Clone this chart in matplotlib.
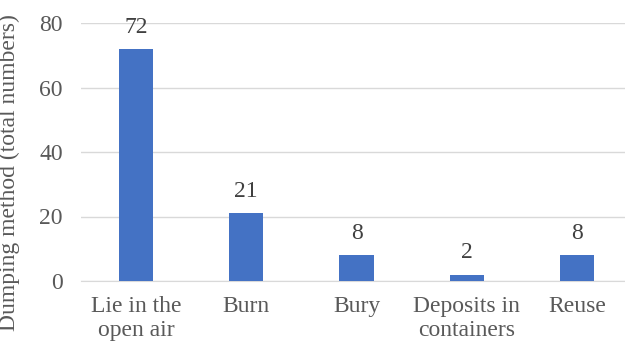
import matplotlib
matplotlib.use("Agg")
import matplotlib.pyplot as plt

categories = ["Lie in the\nopen air", "Burn", "Bury", "Deposits in\ncontainers", "Reuse"]
values = [72, 21, 8, 2, 8]
yticks = [0, 20, 40, 60, 80]

text_color = "#595959"
bar_color = "#4472C4"
grid_color = "#D9D9D9"

plt.rcParams["font.family"] = ["Liberation Serif", "DejaVu Serif"]

fig = plt.figure(figsize=(6.25, 3.46), dpi=100)
ax = fig.add_axes([81 / 625, 65 / 346, 551 / 625, 258 / 346])

x = list(range(len(categories)))
ax.bar(x, values, width=0.31, color=bar_color, zorder=3)
for xi, v in zip(x, values):
    ax.annotate(str(v), (xi, v), xytext=(0, 8), textcoords="offset points",
                ha="center", va="bottom", fontsize=17, color="#404040")

ax.set_xlim(-0.5, len(categories) - 0.5)
ax.set_ylim(0, 80)
ax.set_yticks(yticks)
ax.set_yticklabels([str(t) for t in yticks])
ax.set_xticks(x)
ax.set_xticklabels(categories, linespacing=1.15)
ax.tick_params(axis="y", length=0, pad=13, labelsize=17, labelcolor=text_color)
ax.tick_params(axis="x", length=0, pad=11, labelsize=17, labelcolor=text_color)
ax.yaxis.grid(True, color=grid_color, linewidth=1, zorder=0)
for s in ["top", "right", "left"]:
    ax.spines[s].set_visible(False)
ax.spines["bottom"].set_color(grid_color)
ax.set_ylabel("Dumping method (total numbers)", fontsize=17, color=text_color)
ax.yaxis.set_label_coords(-61 / 551, 0.42)

fig.savefig("out.png", dpi=100)
